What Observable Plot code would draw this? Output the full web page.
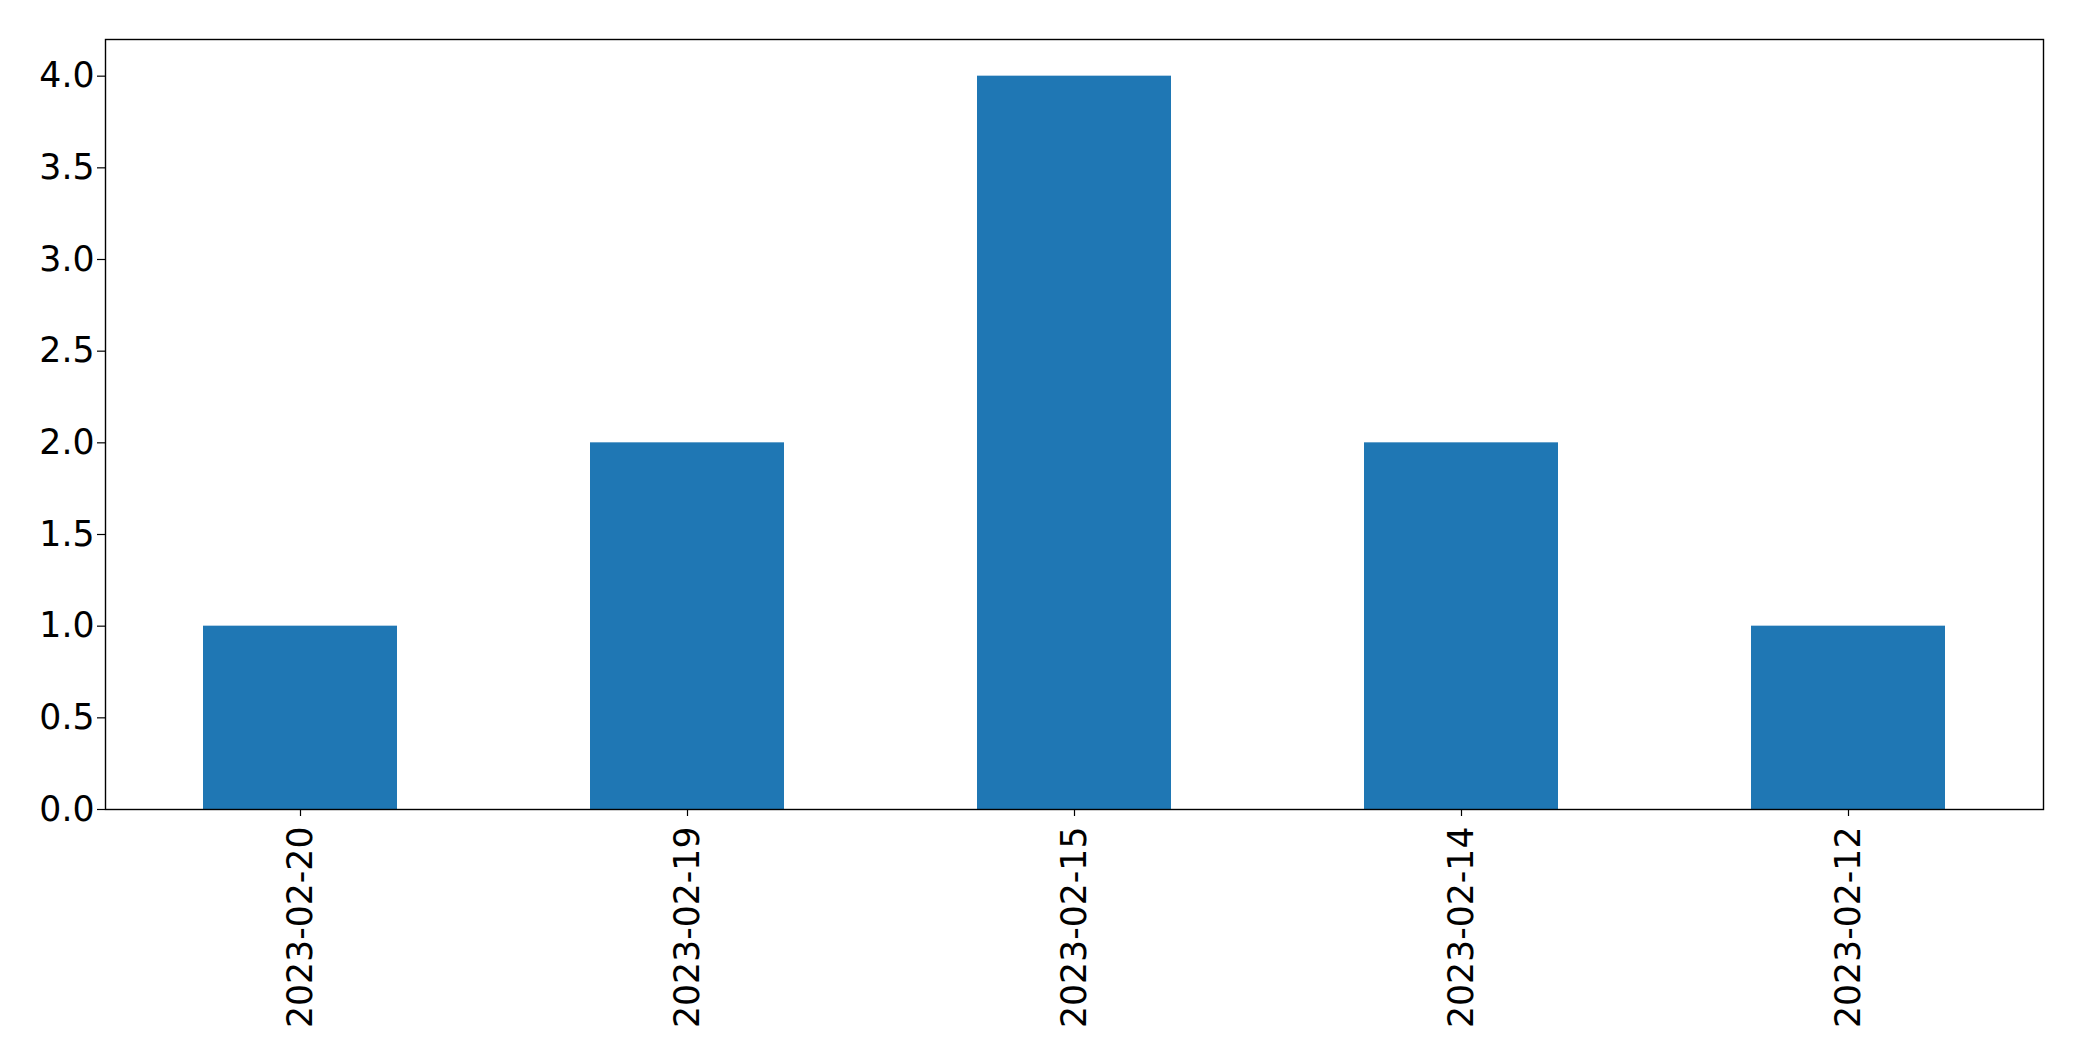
<!DOCTYPE html>
<html>
<head>
<meta charset="utf-8">
<script src="https://cdn.jsdelivr.net/npm/d3@7"></script>
<script src="https://cdn.jsdelivr.net/npm/@observablehq/plot@0.6"></script>
<style>
  html, body { margin: 0; padding: 0; background: #fff; }
  #chart svg { display: block; }
</style>
</head>
<body>
<div id="chart"></div>
<script>
const dates = ["2023-02-20", "2023-02-19", "2023-02-15", "2023-02-14", "2023-02-12"];
const counts = [1, 2, 4, 2, 1];
const yTicks = [0, 0.5, 1.0, 1.5, 2.0, 2.5, 3.0, 3.5, 4.0];

const data = dates.map((d, i) => ({date: d, count: counts[i]}));

const chart = Plot.plot({
  width: 2082,
  height: 1061,
  marginLeft: 105,
  marginRight: 39,
  marginTop: 39,
  marginBottom: 252,
  style: {fontFamily: "DejaVu Sans", fontSize: "34.7px", color: "#000", background: "#fff"},
  x: {domain: dates, paddingInner: 0.5, paddingOuter: 0.25, label: null},
  y: {domain: [0, 4.2], label: null},
  marks: [
    Plot.barY(data, {x: "date", y: "count", fill: "#1f77b4"}),
    Plot.axisY({ticks: yTicks, tickFormat: d3.format(".1f"), tickSize: 8, tickPadding: 3, fontSize: 34.7, strokeWidth: 1.2, label: null}),
    Plot.axisX({tickRotate: -90, tickSize: 7, tickPadding: 10, fontSize: 34.7, strokeWidth: 1.2, label: null}),
    Plot.frame({stroke: "#000", strokeWidth: 1.4})
  ]
});
document.getElementById("chart").appendChild(chart);
</script>
</body>
</html>
